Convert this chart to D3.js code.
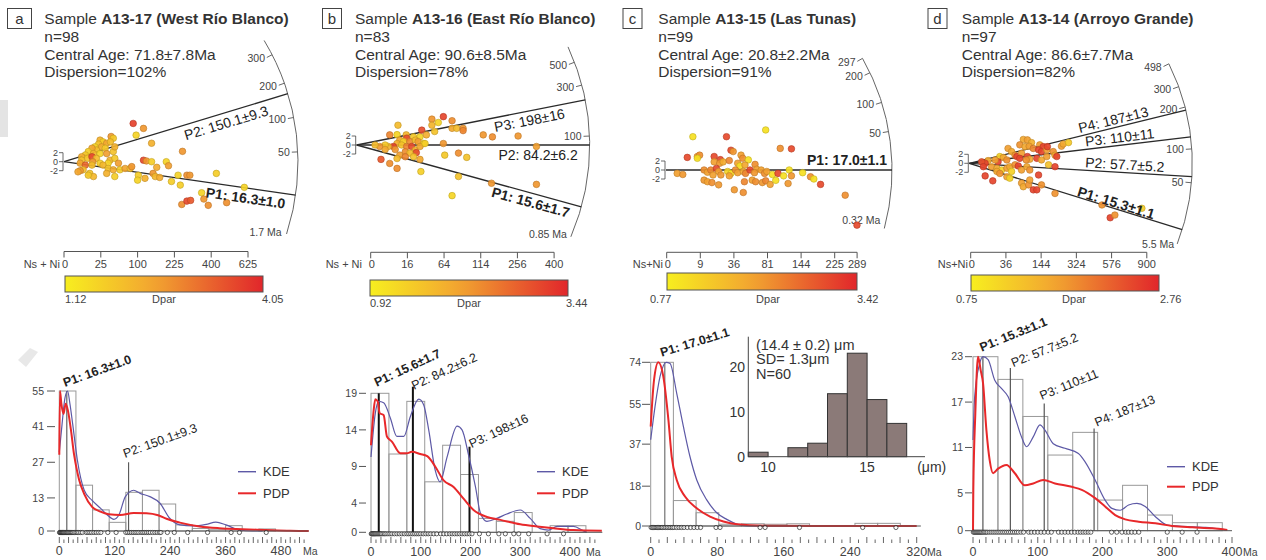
<!DOCTYPE html>
<html>
<head>
<meta charset="utf-8">
<script src="https://cdn.jsdelivr.net/npm/d3@7/dist/d3.min.js"></script>
<style>
html,body{margin:0;padding:0;background:#fff;}
svg{display:block;}
text{font-family:"Liberation Sans",Arial,Helvetica,sans-serif;fill:#333;}
</style>
</head>
<body>
<svg id="chart" width="1266" height="560"></svg>
<script>
// ================= DATA =================
const panelLetters = ["a","b","c","d"];
const sampleNames = ["A13-17 (West Río Blanco)","A13-16 (East Río Blanco)","A13-15 (Las Tunas)","A13-14 (Arroyo Grande)"];
const grainCounts = [98,83,99,97];
const centralAges = ["71.8±7.8","90.6±8.5","20.8±2.2","86.6±7.7"];
const dispersions = [102,78,91,82];
const dparRanges = [[1.12,4.05],[0.92,3.44],[0.77,3.42],[0.75,2.76]];
const nsLabelText = ["Ns + Ni","Ns + Ni","Ns+Ni","Ns+Ni"];

// precision axis: tick positions in sqrt(Ns+Ni) and their labels
const nsTicksA = [0,5,10,15,20,25],     nsLabelsA = ["0","25","100","225","400","625"];
const nsTicksB = [0,4,8,12,16,20],      nsLabelsB = ["0","16","64","114","256","400"];
const nsTicksC = [0,3,6,9,12,15,17],    nsLabelsC = ["0","9","36","81","144","225","289"];
const nsTicksD = [0,6,12,18,24,30],     nsLabelsD = ["0","36","144","324","576","900"];

// radial age scale ticks and arc extent (Ma)
const arcTicksA = [50,100,200,300],      arcRangeA = [1.7,420];
const arcTicksB = [100,300,500],         arcRangeB = [0.85,800];
const arcTicksC = [50,100,200,297],      arcRangeC = [0.32,297];
const arcTicksD = [50,100,200,300,498],  arcRangeD = [5.5,498];

// peak ages
const peakAgesA = [16.3,150.1];            const peakLabelsA = ["P1: 16.3±1.0","P2: 150.1±9.3"];
const peakAgesB = [15.6,84.2,198];         const peakLabelsB = ["P1: 15.6±1.7","P2: 84.2±6.2","P3: 198±16"];
const peakAgesC = [17.0];                  const peakLabelsC = ["P1: 17.0±1.1"];
const peakAgesD = [15.3,57.7,110,187];     const peakLabelsD = ["P1: 15.3±1.1","P2: 57.7±5.2","P3: 110±11","P4: 187±13"];
// heights of peak markers in histogram (counts)
const peakTopsA = [55,27];
const peakTopsB = [19,19.9,11.7];
const peakTopsC = [74];
const peakTopsD = [23,21.5,16.8,13.5];

// radial points: [sqrt(Ns+Ni) precision, standardised estimate, Dpar]
const radialA = [[9.4,8.5,3.7],[10.8,7.4,2.6],[9.8,5.9,1.6],[11.9,4.1,2.2],[6.4,5.6,2.6],[6.7,5.2,1.8],
[4.9,4.8,2.2],[5.3,4.4,1.7],[5.8,4.1,2.4],[6.3,4.4,2.0],[4.7,3.9,1.9],[4.2,3.3,1.6],[5.1,3.3,2.3],[5.6,3.0,1.8],[4.4,2.6,2.0],[3.8,3.0,2.4],[3.3,2.25,1.7],[4.0,1.8,2.1],[4.9,1.8,1.6],[5.8,1.8,2.5],[6.7,2.25,1.9],[6.9,3.3,2.2],[2.9,1.5,1.8],[2.4,1.1,2.3],[3.2,0.75,1.9],[3.8,1.1,3.6],[4.4,0.75,2.0],[3.9,0,2.6],[4.9,-0.33,1.7],[2.4,0.33,1.9],[2.2,-0.33,2.4],[2.9,-0.75,3.2],[3.8,-0.75,2.0],[6.25,0.33,2.2],[6.9,0.75,1.8],[7.4,-0.33,2.5],[6.0,-0.33,1.6],[5.3,-0.75,2.1],[6.0,-1.5,1.9],[6.7,-1.8,2.3],[7.6,-1.8,1.7],[8.3,-1.5,2.4],[9.0,-1.5,2.0],[9.2,-1.1,2.6],[2.6,-1.8,2.0],[2.2,-2.0,2.6],[1.9,-2.25,2.4],[3.5,-2.6,1.9],[4.0,-3.3,2.1],[3.3,-3.0,1.8],[6.9,-3.3,1.7],[5.8,-2.6,2.2],
[10.8,0.33,3.6],[11.2,0.17,2.6],[11.9,0,1.7],[12.6,-1.25,2.3],[13.9,0,1.6],[14.2,-0.9,2.5],[16.1,2.3,2.6],[10.1,-3.0,1.7],[10.0,-4.1,1.6],[11.0,-3.7,2.2],[12.1,-2.6,2.6],[12.4,-3.3,2.1],[13.0,-3.5,2.3],[14.6,-4.4,1.7],[15.5,-3.0,1.6],[15.8,-5.2,1.7],[16.7,-3.0,2.7],[17.1,-3.0,2.6],[20.7,-2.6,1.7],
[18.7,-6.9,1.6],[19.0,-8.3,2.6],[19.6,-9.7,2.7],[16.0,-9.5,2.7],[16.7,-8.75,3.6],[17.2,-8.6,3.4],[22.1,-9.1,2.7],[24.5,-5.7,1.6]];

const radialB = [[9.45,6.3,3.1],[8.2,5.75,2.2],[8.9,5.0,1.3],[8.2,4.4,1.8],[10.4,5.4,2.3],[10.4,3.7,2.0],[10.9,3.7,1.7],[11.6,3.7,2.2],[11.6,3.2,2.4],[13.8,2.25,2.2],[14.8,1.8,2.3],[17.6,2.0,2.2],[19.6,-0.33,2.1],[4.5,4.4,1.7],[3.6,2.25,2.4],[4.4,2.3,1.3],[5.4,2.25,1.8],[5.45,1.5,3.0],[6.2,1.8,1.5],[6.9,1.8,1.3],[7.1,3.3,3.0],[7.6,2.25,1.9],[8.5,3.0,1.6],
[4.7,1.1,2.0],[5.1,0.75,1.4],[5.8,0.75,2.3],[6.4,1.1,1.7],[6.7,0.75,2.1],[7.3,0.33,1.5],[4.4,0.33,1.9],[4.0,-0.33,3.1],[4.2,-1.0,2.2],[4.9,0,1.6],[5.45,-0.33,2.4],[6.0,-0.33,3.0],[6.4,-1.1,1.8],[6.5,-1.7,3.0],[6.9,-0.33,2.0],[7.45,0.33,1.4],[5.3,-1.5,2.3],[5.8,-1.8,1.7],[4.7,-2.25,2.1],[3.45,-0.33,1.8],[3.1,0,1.5],[2.5,-0.33,2.2],[2.0,0,1.7],[3.1,-1.0,2.0],[9.45,0.33,2.2],[9.6,-2.25,1.5],[11.1,-1.8,2.3],[12.0,-2.75,1.6],[2.65,-3.2,2.9],[3.6,-4.1,2.3],[4.4,-3.0,1.7],[5.3,-2.6,2.4],[6.2,-2.6,1.6],[6.9,-3.2,2.0],[4.4,-5.2,2.3],[7.0,-5.9,1.4],[11.1,-7.0,1.6],[14.7,-8.5,2.2],[10.4,-11.25,1.3],[19.6,-8.75,2.2]];

const radialC = [[2.4,7.4,1.0],[5.4,7.4,3.0],[8.9,8.9,1.0],[1.9,2.8,3.0],[2.8,3.0,2.1],[3.0,3.3,2.2],[2.8,2.6,1.0],[4.3,3.0,3.0],[4.85,2.3,3.0],[5.8,4.4,3.0],[6.0,4.1,2.1],[6.7,3.3,2.0],[6.85,2.6,2.2],[7.35,2.25,1.0],[4.3,1.8,2.0],[4.8,1.5,2.1],[5.1,1.8,1.8],[5.65,2.1,2.3],[6.4,1.5,2.0],[6.6,0.9,1.0],[7.05,1.1,1.9],[7.95,1.25,2.2],[8.1,0.17,2.0],[10.2,4.8,2.2],[11.2,4.7,3.0],
[1.0,-0.75,2.0],[1.5,-1.0,2.1],[3.4,0,2.2],[3.7,-0.5,2.0],[4.0,0,2.3],[4.5,0.33,3.0],[4.7,-0.33,2.0],[4.9,-1.1,2.1],[4.2,-1.1,2.0],[5.5,-0.33,1.2],[5.8,-0.75,1.0],[6.2,0,2.2],[6.4,-0.6,2.0],[6.9,-0.33,1.9],[7.1,-0.75,2.3],[7.5,0,3.0],[7.9,-0.6,2.1],[8.5,0,2.0],[8.8,-0.75,2.2],[9.0,-0.33,2.0],[9.5,-1.0,1.0],[10.0,-0.75,3.0],[10.5,-1.3,1.0],[11.0,0,1.0],[11.2,-1.3,2.1],[12.2,-0.6,1.0],[12.9,-1.5,2.2],[13.2,-2.0,1.0],[13.8,-3.2,3.0],[3.4,-2.25,2.1],[3.7,-2.6,2.0],[4.1,-2.8,2.2],[4.7,-3.3,2.1],[5.65,-1.3,2.0],[6.1,-4.4,2.1],[6.9,-5.0,2.2],[7.0,-2.6,2.3],[7.7,-2.25,2.0],[8.0,-2.6,2.2],[8.6,-2.8,2.1],[8.9,-2.4,2.3],[9.3,-3.2,2.0],[9.8,-2.3,1.0],[10.9,-3.0,2.1],[16.0,-5.6,2.2],[17.05,-12.25,3.0]];

const radialD = [[9.2,5.3,1.6],[9.9,5.2,1.7],[10.6,4.6,1.5],[8.6,4.1,1.8],[9.5,3.7,1.6],[10.2,3.8,1.7],[10.9,3.3,1.9],[12.0,4.1,1.7],[12.6,3.7,2.5],[11.8,3.0,2.5],[12.3,2.6,2.5],[13.2,3.0,1.7],[13.3,3.7,2.5],[14.3,2.6,1.8],[14.6,1.8,1.6],[14.9,1.5,2.5],[13.5,-0.33,1.3],[14.6,-0.75,2.5],[15.7,3.8,1.7],[16.0,4.3,1.6],[16.9,4.6,1.2],[6.6,3.3,1.7],[7.2,2.6,1.6],[7.8,1.8,1.8],[8.1,1.5,2.5],[8.9,2.25,1.7],[9.9,1.5,2.5],[10.3,0.9,1.6],[8.6,1.1,2.5],[9.7,0.75,1.8],[11.5,1.1,2.5],[12.3,0.75,1.6],[13.2,1.5,1.7],[5.2,1.5,1.1],[5.8,1.3,1.6],[6.4,0.75,1.8],[4.9,0.33,2.5],[4.4,0.75,1.7],[3.2,0.6,1.6],[2.7,0,2.5],[2.1,0.33,2.4],[2.4,-0.75,2.5],[3.8,-0.75,1.7],[4.7,-1.1,1.6],[5.5,-1.5,1.1],[6.4,-1.1,1.7],[6.9,-0.75,1.6],[7.8,-0.33,1.8],[8.35,-0.6,2.5],[8.9,-1.5,1.7],[9.8,-0.75,1.6],[10.3,-1.5,1.8],[7.2,-1.8,1.1],[6.4,-3.0,1.7],[6.9,-3.3,1.1],[4.7,-1.8,1.6],[5.2,-2.25,1.8],[2.7,-2.8,2.5],[4.0,-3.9,2.5],[8.9,-4.4,1.7],[9.2,-5.2,1.6],[10.1,-4.8,1.8],[10.9,-5.9,2.5],[11.5,-5.9,2.5],[12.3,-4.8,1.8],[11.8,-2.6,2.5],[10.3,-3.7,1.7],[14.6,-6.7,1.8],[22.6,-9.25,1.8],[24.0,-12.1,2.5],[24.8,-11.5,1.8],[29.4,-10.0,1.2]];

// histograms
const binWidths = [36,36,27.3,38.5];
const binCountsA = [55,18,8.3,3.4,15.2,16,10.6,2.4,1,0.7,2.1,0,0.8];
const binCountsB = [19,10.7,17.9,6.9,11.9,7.9,1.9,1.5,2.7,0,0.9,0.9];
const binCountsC = [74,11.5,6,0.8,1,0.8,1,0,0,1.2,1.2];
const binCountsD = [23,20,15.1,10,13,4.05,6,2.07,1.06,1.06];

const histYTicksA = [0,13,27,41,55];
const histYTicksB = [0,4,9,14,19];
const histYTicksC = [0,18,37,55,74];
const histYTicksD = [0,5,11,17,23];
const histXTicksA = [0,120,240,360,480];
const histXTicksB = [0,100,200,300,400];
const histXTicksC = [0,80,160,240,320];
const histXTicksD = [0,100,200,300,400];

// KDE and PDP curves: [age Ma, frequency]
const kdeA = [[0,31],[6,42],[12,52],[18,55],[23,50],[29,42],[39,28],[54,16],[71,12],[89,9],[104,6.3],[118,4.6],[129,6.3],[143,13.5],[161,16],[175,14.8],[196,13.5],[218,10.9],[239,5],[261,2.4],[289,2],[318,2.6],[339,3.5],[361,2.4],[389,0.4],[418,0],[440,0]];
const pdpA = [[0,30],[1.5,55],[4.5,50],[9,46],[14,50],[19,47],[25,40],[32,30],[38,24],[43,20],[54,14.5],[71,9.5],[89,7.6],[107,6.6],[132,6.3],[161,7.1],[189,7],[214,6.2],[232,4.8],[261,3.3],[304,1.8],[346,1.1],[396,0.7],[446,0.4],[500,0.1],[540,0]];
const kdeB = [[0,10.3],[8.7,16.3],[15.4,17.9],[25.5,17.7],[39,15.6],[52,13.1],[66,13.1],[79,15.8],[96,18.2],[106,17.4],[116,14],[129,8.5],[139,6.9],[153,10.3],[173,14.5],[183,14],[196,10.6],[210,6.2],[220,2.6],[233,1.5],[253,1.9],[273,2.5],[300,3.05],[320,1.9],[340,0.5],[357,0.3],[374,0.8],[394,0.8],[407,0.8],[427,0.2],[434,0]];
const pdpB = [[0,11.9],[5.4,16.7],[8.7,18.2],[13.4,17.9],[17.4,16.3],[25.5,16],[32,13.1],[42,12.4],[59,10.8],[72,10.8],[82,11],[99,10.7],[113,10.4],[129,9],[146,7.1],[166,6.2],[186,4.6],[206,3.05],[233,2.1],[260,1.7],[300,1.1],[334,0.8],[367,0.55],[407,0.3],[464,0.2]];
const kdeC = [[0,39],[5.2,54],[11.2,67.5],[18.5,74],[23.3,73.5],[31.3,60],[39.3,45],[47.3,31.3],[55.4,20.8],[67.4,11.8],[79.4,6],[91.5,3],[103.5,0.9],[115.5,0],[175,0]];
const pdpC = [[0,45],[4,66],[9.2,74],[15.2,67.5],[21.3,48],[25.3,31.3],[31.3,20.8],[41.3,13.3],[55.4,8],[71.4,4.2],[87.4,2],[103.5,0.75],[135.6,0.15],[200,0.05],[320,0]];
const kdeD = [[0,12],[2.6,17.7],[10.3,22.1],[15.5,23],[23.3,22.6],[33.6,19.9],[43.9,18.8],[54.3,17.7],[64.6,15.1],[74.9,12.4],[82.7,11.1],[93,12.4],[103.4,14],[111.1,13.3],[124,11.5],[142,10.9],[162.8,10.2],[173.1,9.1],[188.6,6.7],[204,4.05],[214.5,2.95],[227.4,2.7],[240.3,3.4],[253.2,3.6],[266,3.2],[281.7,1.85],[300,0.75],[317.8,0.6],[338.5,0.5],[359,0.44],[390,0.1]];
const pdpD = [[0,0],[0.5,5.4],[3.6,15.5],[7.75,23],[11.9,21.2],[15.5,19.5],[20.7,13.3],[25.8,9.3],[31,7.6],[38.8,8.2],[51.7,8.7],[64.6,7.6],[80.1,6],[93,6.25],[108.5,6.7],[126.6,6.25],[152.5,5.8],[168,5.4],[188.6,4.3],[204,3.2],[219.6,2.07],[235,1.5],[255.8,1.19],[281.7,0.97],[307.5,0.62],[338.5,0.44],[369.5,0.31],[392.8,0.1]];

// single-grain ages (Ma) shown as circles
const grainAgesA = [0.5,1.5,2.5,3.5,4.5,5.5,6.5,7.5,8.5,9.5,11,12.5,14,15.5,17,18.5,20,22,24,26,28,30,33,36,39,42,46,50,58,62,66,70,75,80,85,90,105,123,144,148,152,156,160,164,168,172,177,181,185,189,193,197,202,207,212,217,220,234,249,278,321,372,390,448];
const grainAgesB = [0.5,1.5,3,4.5,6,7.5,9,11,13,15,17,19,21,24,27,30,34,38,42,47,52,57,62,67,72,76,80,84,88,92,96,100,105,110,115,120,126,132,140,146,152,158,163,168,173,178,183,188,193,198,203,218,236,257,270,287,297,317,354,387];
const grainAgesC = [0.5,2,3.5,5,6.5,8,9.5,11,12.5,14,16,18,20,22,24,26,28,31,34,37,40,44,48,52,56,60,78.6,83.4,131.6,137.6,179,255,295];
const grainAgesD = [0.5,2,3.5,5,6.5,8,9.5,11,12.5,14,16,18,20,22,25,28,31,34,37,40,43,46,49,52,55,58,61,64,67,70,74,78,86,90,95,100,105,110,116,121,132,137,142,147,152,157,162,166,170,174,178,182,214,222,230,236,240,245,250,256,300,323,346];

// track-length inset (panel c)
const trackBinStarts = [9,10,11,12,13,14,15,16];
const trackCounts = [1,0,2,3,14,23,12.7,7.4];
const trackXTicks = [10,15];
const trackYTicks = [0,10,20];
const trackStats = ["(14.4 ± 0.2) μm","SD= 1.3μm","N=60"];

// ================= LAYOUT =================
const panels = [
 {box:[7.5,8.5,24,20], titleX:44.3,
  o:[64,161.7], R:234, ppu:7.36, angDom:[1.7,16.3,50,100,150.1,200,300,420], angRng:[-18,-8.2,2.4,10.9,16.9,19.6,27.2,31.2],
  peakLab:[[225,15],[210,15]], minLab:[-5,2],
  ns:{x0:64, ppu:7.36, y:251.5, lx:60, ly:268},
  cb:{x:65,y:276,w:198,h:16,ly:303,minX:65,maxX:262,dparX:164},
  H:{xDom:[0,480], xRng:[59.3,281], yDom:[0,55], yRng:[531,391], tickMax:530, baseMax:540, labY:555, maX:303, yLabX:44, dash:[47,55], plAng:-20, plOff:[[-1.8,-4],[-3.6,-4.3]], pStroke:"#444", pW:1, leg:{x:238,y:[471.7,493.3]}},
  rad:radialA, nsT:nsTicksA, nsL:nsLabelsA, arcT:arcTicksA, arcR:arcRangeA, pA:peakAgesA, pL:peakLabelsA, pT:peakTopsA,
  bins:binCountsA, kde:kdeA, pdp:pdpA, ages:grainAgesA, yT:histYTicksA, xT:histXTicksA},
 {box:[322.5,8.5,19,20], titleX:355,
  o:[356.7,145], R:233, ppu:9.17, angDom:[0.85,15.6,84.2,100,198,300,500,800], angRng:[-23.2,-15.4,0,2.2,11.15,14.9,20.8,24.9],
  peakLab:[[223,14],[221,15],[210,14]], minLab:[-4,1],
  ns:{x0:370.7, ppu:9.17, y:252.3, lx:362, ly:268},
  cb:{x:370,y:280,w:198,h:16,ly:307,minX:370,maxX:566,dparX:469},
  H:{xDom:[0,400], xRng:[371,570], yDom:[0,19], yRng:[532.3,393.3], tickMax:450, baseMax:465, labY:556, maX:586, yLabX:357, dash:[359,366], plAng:-25, plOff:[[-2,-6.6],[1,3.4],[2,1.6]], pStroke:"#111", pW:2, leg:{x:537,y:[471.7,493.3]}},
  rad:radialB, nsT:nsTicksB, nsL:nsLabelsB, arcT:arcTicksB, arcR:arcRangeB, pA:peakAgesB, pL:peakLabelsB, pT:peakTopsB,
  bins:binCountsB, kde:kdeB, pdp:pdpB, ages:grainAgesB, yT:histYTicksB, xT:histXTicksB},
 {box:[623,8.5,19,20], titleX:658.3,
  o:[666,170], R:226, ppu:11.2, angDom:[0.32,17,50,100,200,297], angRng:[-15,0,9.8,17.4,25.5,29.6],
  peakLab:[[221,-5]], minLab:[-4,-4.5],
  ns:{x0:666.7, ppu:11.2, y:252.3, lx:663, ly:268},
  cb:{x:667,y:273,w:190,h:17,ly:303,minX:650,maxX:857,dparX:768},
  H:{xDom:[0,320], xRng:[650.7,916.7], yDom:[0,74], yRng:[526,362.3], tickMax:320, baseMax:325, labY:556, maX:927, yLabX:641, dash:[642,650], plAng:-17, plOff:[[-3,-5.6]], pStroke:"#555", pW:1, leg:null},
  rad:radialC, nsT:nsTicksC, nsL:nsLabelsC, arcT:arcTicksC, arcR:arcRangeC, pA:peakAgesC, pL:peakLabelsC, pT:peakTopsC,
  bins:binCountsC, kde:kdeC, pdp:pdpC, ages:grainAgesC, yT:histYTicksC, xT:histXTicksC},
 {box:[928,8.5,19,20], titleX:961.7,
  o:[969.3,163.3], R:223, ppu:5.87, angDom:[5.5,15.3,50,57.7,100,110,187,200,300,498], angRng:[-21.2,-17.3,-5.0,-3.4,3.7,6.8,13.8,14.6,20.1,26.5],
  peakLab:[[192,-1],[195,-3],[187,-3],[186,-3]], minLab:[-3,4],
  ns:{x0:970.7, ppu:5.87, y:252.3, lx:968, ly:268},
  cb:{x:971,y:275,w:188,h:16,ly:303,minX:956,maxX:1160,dparX:1074},
  H:{xDom:[0,400], xRng:[973,1232], yDom:[0,23], yRng:[530.7,356.7], tickMax:400, baseMax:400, labY:556, maX:1243, yLabX:963, dash:[965,972], plAng:-22, plOff:[[-1.2,-5],[2.9,-0.8],[-2.5,-3.6],[2.6,-1.9]], pStroke:"#555", pW:1.2, leg:{x:1167,y:[466.7,486.7]}},
  rad:radialD, nsT:nsTicksD, nsL:nsLabelsD, arcT:arcTicksD, arcR:arcRangeD, pA:peakAgesD, pL:peakLabelsD, pT:peakTopsD,
  bins:binCountsD, kde:kdeD, pdp:pdpD, ages:grainAgesD, yT:histYTicksD, xT:histXTicksD}
];

// ================= DRAW =================
const svg = d3.select("#chart");
const colorStops = ["#f7ee1f","#f2a431","#e1262b"];
const KDE_COLOR = "#5d59a6", PDP_COLOR = "#e8282a";
const Z_PX = 4.5; // px per unit of standardised estimate
function dparScale(r){ return d3.scaleLinear().domain([r[0], r[0]+0.45*(r[1]-r[0]), r[1]]).range(colorStops).clamp(true); }
function polar(o,r,deg){ const a = deg*Math.PI/180; return [o[0]+r*Math.cos(a), o[1]-r*Math.sin(a)]; }

// faint background artefacts
svg.append("rect").attr("x",0).attr("y",100).attr("width",8).attr("height",37).attr("fill","#e4e4e4");
svg.append("path").attr("d","M18,360 L30,348 L38,352 L26,367 Z").attr("fill","#e8e8e8");

const defs = svg.append("defs");

panels.forEach((P,i) => {
  const g = svg.append("g");
  // ---- header ----
  const b = P.box;
  g.append("rect").attr("x",b[0]).attr("y",b[1]).attr("width",b[2]).attr("height",b[3])
    .attr("fill","none").attr("stroke","#444").attr("stroke-width",1);
  g.append("text").attr("x",b[0]+b[2]/2).attr("y",b[1]+15).attr("text-anchor","middle").attr("font-size",15).text(panelLetters[i]);
  const t = g.append("text").attr("x",P.titleX).attr("y",24).attr("font-size",15.5);
  t.append("tspan").text("Sample ");
  t.append("tspan").attr("font-weight","bold").text(sampleNames[i]);
  g.append("text").attr("x",P.titleX).attr("y",41.5).attr("font-size",15.5).text("n="+grainCounts[i]);
  g.append("text").attr("x",P.titleX).attr("y",59.5).attr("font-size",15.5).text("Central Age: "+centralAges[i]+"Ma");
  g.append("text").attr("x",P.titleX).attr("y",77).attr("font-size",15.5).text("Dispersion="+dispersions[i]+"%");

  // ---- radial plot ----
  const ang = d3.scaleLinear().domain(P.angDom).range(P.angRng);
  const o = P.o, R = P.R;
  const col = dparScale(dparRanges[i]);
  const arcP = d3.path();
  arcP.arc(o[0], o[1], R, -ang(P.arcR[1])*Math.PI/180, -ang(P.arcR[0])*Math.PI/180, false);
  g.append("path").attr("d",arcP.toString()).attr("fill","none").attr("stroke","#666").attr("stroke-width",1);
  P.arcT.forEach(tk => {
    const a = ang(tk), p1 = polar(o,R,a), p2 = polar(o,R-6,a), pl = polar(o,R-8,a);
    g.append("line").attr("x1",p1[0]).attr("y1",p1[1]).attr("x2",p2[0]).attr("y2",p2[1]).attr("stroke","#666").attr("stroke-width",1);
    g.append("text").attr("x",pl[0]).attr("y",pl[1]).attr("dy","0.35em").attr("text-anchor","end").attr("font-size",10.5).style("fill","#444").text(tk);
  });
  const pm = polar(o,R,ang(P.arcR[0]));
  g.append("text").attr("x",pm[0]+P.minLab[0]).attr("y",pm[1]+P.minLab[1]).attr("text-anchor","end").attr("font-size",10.5).style("fill","#444").text(P.arcR[0]+" Ma");

  // peak lines
  P.pA.forEach(age => {
    const pe = polar(o,R,ang(age));
    g.append("line").attr("x1",o[0]).attr("y1",o[1]).attr("x2",pe[0]).attr("y2",pe[1]).attr("stroke","#2a2a2a").attr("stroke-width",1.3);
  });

  // scales for points
  const px = d3.scaleLinear().domain([0,10]).range([o[0], o[0]+10*P.ppu]);
  const pz = d3.scaleLinear().domain([0,10]).range([o[1], o[1]-10*Z_PX]);

  // bracket of standardised estimate (-2..2)
  g.append("line").attr("x1",o[0]-1).attr("x2",o[0]-1).attr("y1",pz(2)).attr("y2",pz(-2)).attr("stroke","#444").attr("stroke-width",0.8);
  [-2,0,2].forEach(v => {
    g.append("line").attr("x1",o[0]-1).attr("x2",o[0]-5).attr("y1",pz(v)).attr("y2",pz(v)).attr("stroke","#444").attr("stroke-width",0.8);
    g.append("text").attr("x",o[0]-6).attr("y",pz(v)).attr("dy","0.33em").attr("text-anchor","end").attr("font-size",9).style("fill","#444").text(v);
  });

  // points
  g.append("g").selectAll("circle").data(P.rad).join("circle")
    .attr("cx",d=>px(d[0])).attr("cy",d=>pz(d[1])).attr("r",3.3)
    .attr("fill",d=>col(d[2])).attr("fill-opacity",0.92)
    .attr("stroke",d=>d3.color(col(d[2])).darker(0.7)).attr("stroke-width",0.6);

  // peak labels
  P.pA.forEach((age,k) => {
    const a = ang(age), L = P.peakLab[k];
    const pt = polar(o,L[0],a), rad = a*Math.PI/180;
    const x = pt[0] + L[1]*Math.sin(rad), y = pt[1] + L[1]*Math.cos(rad);
    g.append("text").attr("transform",`translate(${x},${y}) rotate(${-a})`).attr("text-anchor","end")
      .attr("font-size",14).attr("font-weight",k===0?"bold":"normal").style("fill","#222").text(P.pL[k]);
  });

  // precision axis
  const nx = d3.scaleLinear().domain([0,10]).range([P.ns.x0, P.ns.x0+10*P.ns.ppu]);
  const nmax = P.nsT[P.nsT.length-1];
  g.append("line").attr("x1",nx(0)).attr("x2",nx(nmax)).attr("y1",P.ns.y).attr("y2",P.ns.y).attr("stroke","#555").attr("stroke-width",1);
  P.nsT.forEach((v,k) => {
    g.append("line").attr("x1",nx(v)).attr("x2",nx(v)).attr("y1",P.ns.y).attr("y2",P.ns.y+6).attr("stroke","#555").attr("stroke-width",1);
    g.append("text").attr("x",nx(v)).attr("y",P.ns.ly).attr("text-anchor",k===0?"start":"middle").attr("dx",k===0?-2:0).attr("font-size",11).style("fill","#444").text(P.nsL[k]);
  });
  g.append("text").attr("x",P.ns.lx).attr("y",P.ns.ly).attr("text-anchor","end").attr("font-size",11).style("fill","#444").text(nsLabelText[i]);

  // colour bar
  const gid = "grad"+i;
  const grad = defs.append("linearGradient").attr("id",gid).attr("x1","0%").attr("x2","100%").attr("y1","0%").attr("y2","0%");
  const dr = dparRanges[i];
  d3.range(0,1.0001,0.1).forEach(f => grad.append("stop").attr("offset",(f*100)+"%").attr("stop-color",col(dr[0]+f*(dr[1]-dr[0]))));
  const cb = P.cb;
  g.append("rect").attr("x",cb.x).attr("y",cb.y).attr("width",cb.w).attr("height",cb.h).attr("fill",`url(#${gid})`).attr("stroke","#555").attr("stroke-width",1);
  g.append("text").attr("x",cb.minX).attr("y",cb.ly).attr("font-size",11).style("fill","#444").text(dr[0].toFixed(2));
  g.append("text").attr("x",cb.maxX).attr("y",cb.ly).attr("font-size",11).style("fill","#444").text(dr[1].toFixed(2));
  g.append("text").attr("x",cb.dparX).attr("y",cb.ly).attr("text-anchor","middle").attr("font-size",11).style("fill","#444").text("Dpar");

  // ---- histogram ----
  const H = P.H;
  const x = d3.scaleLinear().domain(H.xDom).range(H.xRng);
  const y = d3.scaleLinear().domain(H.yDom).range(H.yRng);
  const bw = binWidths[i];
  g.append("g").selectAll("rect").data(P.bins).join("rect")
    .attr("x",(d,k)=>x(k*bw)).attr("width",(d,k)=>x((k+1)*bw)-x(k*bw))
    .attr("y",d=>y(d)).attr("height",d=>y(0)-y(d))
    .attr("fill","none").attr("stroke","#999").attr("stroke-width",1);
  P.pA.forEach((age,k) => {
    g.append("line").attr("x1",x(age)).attr("x2",x(age)).attr("y1",y(0)).attr("y2",y(P.pT[k])).attr("stroke",H.pStroke).attr("stroke-width",H.pW);
  });
  const line = d3.line().x(d=>x(d[0])).y(d=>y(Math.max(0,d[1]))).curve(d3.curveMonotoneX);
  g.append("path").attr("d",line(P.kde)).attr("fill","none").attr("stroke",KDE_COLOR).attr("stroke-width",1.2);
  g.append("path").attr("d",line(P.pdp)).attr("fill","none").attr("stroke",PDP_COLOR).attr("stroke-width",2);
  g.append("line").attr("x1",x(0)).attr("x2",x(H.baseMax)).attr("y1",y(0)).attr("y2",y(0)).attr("stroke","#555").attr("stroke-width",1);
  g.append("g").selectAll("circle").data(P.ages).join("circle")
    .attr("cx",d=>x(d)).attr("cy",y(0)+1.5).attr("r",2.1)
    .attr("fill","#fff").attr("fill-opacity",0.6).attr("stroke","#222").attr("stroke-width",0.7);
  // peak labels
  P.pA.forEach((age,k) => {
    g.append("text").attr("transform",`translate(${x(age)+H.plOff[k][0]},${y(P.pT[k])+H.plOff[k][1]}) rotate(${H.plAng})`)
      .attr("font-size",12.5).attr("font-weight",k===0?"bold":"normal").style("fill","#222").text(P.pL[k]);
  });
  // y ticks
  P.yT.forEach(v => {
    g.append("text").attr("x",H.yLabX).attr("y",y(v)).attr("dy","0.35em").attr("text-anchor","end").attr("font-size",10.5).style("fill","#444").text(v);
    g.append("line").attr("x1",H.dash[0]).attr("x2",H.dash[1]).attr("y1",y(v)).attr("y2",y(v)).attr("stroke","#555").attr("stroke-width",1);
  });
  // x tick row
  d3.range(0, H.tickMax+1, 10).forEach(v => {
    const tall = (v % 20 === 0);
    g.append("line").attr("x1",x(v)).attr("x2",x(v)).attr("y1",tall?537:539.5).attr("y2",543).attr("stroke","#555").attr("stroke-width",0.9);
  });
  P.xT.forEach(v => {
    g.append("text").attr("x",x(v)).attr("y",H.labY).attr("text-anchor","middle").attr("font-size",12.5).style("fill","#444").text(v);
  });
  g.append("text").attr("x",H.maX).attr("y",H.labY).attr("font-size",10.5).style("fill","#444").text("Ma");
  // legend
  if (H.leg){
    [["KDE",KDE_COLOR,1.4],["PDP",PDP_COLOR,2]].forEach((e,k) => {
      const ly = H.leg.y[k];
      g.append("line").attr("x1",H.leg.x).attr("x2",H.leg.x+18).attr("y1",ly).attr("y2",ly).attr("stroke",e[1]).attr("stroke-width",e[2]);
      g.append("text").attr("x",H.leg.x+25).attr("y",ly).attr("dy","0.36em").attr("font-size",13).style("fill","#333").text(e[0]);
    });
  }
});

// ---- inset (track lengths, panel c) ----
(function(){
  const g = svg.append("g");
  const x = d3.scaleLinear().domain([9,17]).range([748.3,906.7]);
  const y = d3.scaleLinear().domain([0,20]).range([456.7,366.7]);
  g.append("rect").attr("x",748.3).attr("y",336.7).attr("width",177).attr("height",120).attr("fill","#fff").attr("fill-opacity",0.85);
  g.append("g").selectAll("rect").data(trackCounts).join("rect")
    .attr("x",(d,k)=>x(trackBinStarts[k])).attr("width",(d,k)=>x(trackBinStarts[k]+1)-x(trackBinStarts[k]))
    .attr("y",d=>y(d)).attr("height",d=>y(0)-y(d))
    .attr("fill","#8b7a78").attr("stroke","#333").attr("stroke-width",1)
    .attr("display",d=>d>0?null:"none");
  g.append("line").attr("x1",748.3).attr("x2",748.3).attr("y1",336.7).attr("y2",y(0)).attr("stroke","#444").attr("stroke-width",1);
  g.append("line").attr("x1",748.3).attr("x2",925).attr("y1",y(0)).attr("y2",y(0)).attr("stroke","#444").attr("stroke-width",1);
  trackYTicks.forEach(v => g.append("text").attr("x",745).attr("y",y(v)).attr("dy","0.35em").attr("text-anchor","end").attr("font-size",14).style("fill","#333").text(v));
  trackXTicks.forEach(v => g.append("text").attr("x",x(v)).attr("y",472).attr("text-anchor","middle").attr("font-size",14).style("fill","#333").text(v));
  g.append("text").attr("x",931.7).attr("y",472).attr("text-anchor","middle").attr("font-size",14).style("fill","#333").text("(μm)");
  trackStats.forEach((s,k) => g.append("text").attr("x",756).attr("y",350+k*14.3).attr("font-size",14.5).style("fill","#333").text(s));
})();
</script>
</body>
</html>
